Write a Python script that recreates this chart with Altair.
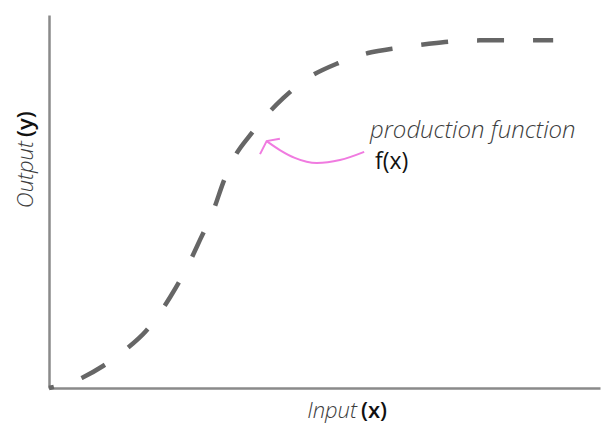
import altair as alt
import pandas as pd

# production function curve (x = input, y = output)
curve_x = [0.0, 6.2, 9.8, 13.8, 17.6, 22.0, 25.0, 27.4, 29.8, 31.8, 33.6, 36.5, 39.2,
           42.5, 46.5, 52.5, 57.9, 63.3, 68.6, 74.0, 78.2, 85.8, 91.5]
curve_y = [0.0, 2.9, 5.9, 10.2, 15.3, 24.4, 32.2, 39.7, 47.5, 55.8, 61.7, 67.8, 72.7,
           77.7, 82.6, 87.1, 89.8, 91.2, 92.2, 93.0, 93.2, 93.2, 93.2]

# pink annotation arrow (shaft and head)
arrow_x = [57.2, 52.8, 48.6, 44.6, 41.9, 39.5]
arrow_y = [63.3, 61.1, 60.3, 61.7, 63.8, 66.2]
head_x = [41.9, 39.5, 38.3]
head_y = [66.8, 66.2, 62.7]

label_main = "production function"
label_fx = "f(x)"
label_x = ["Input", "(x)"]
label_y = ["Output", "(y)"]

curve_df = pd.DataFrame({"x": curve_x, "y": curve_y})
arrow_df = pd.DataFrame({"x": arrow_x, "y": arrow_y, "i": list(range(len(arrow_x)))})
head_df = pd.DataFrame({"x": head_x, "y": head_y, "i": list(range(len(head_x)))})

xs = alt.Scale(domain=[0, 100], nice=False, zero=False)
ys = alt.Scale(domain=[0, 100], nice=False, zero=False)

axis_style = dict(domain=True, domainColor="#8a8a8a", domainWidth=2.5, ticks=False,
                  labels=False, grid=False, title=None)

curve = alt.Chart(curve_df).mark_line(
    color="#666666", strokeWidth=4.5, strokeDash=[27, 29], strokeDashOffset=22,
    interpolate="monotone"
).encode(
    x=alt.X("x:Q", scale=xs, axis=alt.Axis(**axis_style)),
    y=alt.Y("y:Q", scale=ys, axis=alt.Axis(**axis_style)),
)

pink = "#f07be0"
arrow = alt.Chart(arrow_df).mark_line(color=pink, strokeWidth=2, interpolate="monotone").encode(
    x=alt.X("x:Q", scale=xs), y=alt.Y("y:Q", scale=ys), order="i:O"
)
head = alt.Chart(head_df).mark_line(color=pink, strokeWidth=2).encode(
    x=alt.X("x:Q", scale=xs), y=alt.Y("y:Q", scale=ys), order="i:O"
)

one = pd.DataFrame({"a": [0]})
font = "Open Sans"

t_main = alt.Chart(one).mark_text(
    text=label_main, font=font, fontSize=24, fontStyle="italic", fontWeight=300,
    color="#3d3d3d", align="left", baseline="middle"
).encode(x=alt.value(321), y=alt.value(116))

t_fx = alt.Chart(one).mark_text(
    text=label_fx, font=font, fontSize=23, fontWeight=500,
    color="#111111", align="left", baseline="middle"
).encode(x=alt.value(326), y=alt.value(147))

tx1 = alt.Chart(one).mark_text(
    text=label_x[0], font=font, fontSize=22, fontStyle="italic", fontWeight=300,
    color="#3d3d3d", align="right", baseline="middle"
).encode(x=alt.value(308), y=alt.value(396))
tx2 = alt.Chart(one).mark_text(
    text=label_x[1], font=font, fontSize=22, fontWeight=600,
    color="#111111", align="left", baseline="middle"
).encode(x=alt.value(312), y=alt.value(396))

ty1 = alt.Chart(one).mark_text(
    text=label_y[0], font=font, fontSize=22, fontStyle="italic", fontWeight=300,
    color="#3d3d3d", align="right", baseline="middle", angle=270
).encode(x=alt.value(-23), y=alt.value(126))
ty2 = alt.Chart(one).mark_text(
    text=label_y[1], font=font, fontSize=22, fontWeight=600,
    color="#111111", align="left", baseline="middle", angle=270
).encode(x=alt.value(-23), y=alt.value(122))

chart = alt.layer(curve, arrow, head, t_main, t_fx, tx1, tx2, ty1, ty2).properties(
    width=551, height=373,
    autosize=alt.AutoSizeParams(type="none"),
    padding={"left": 49, "top": 15, "right": 4, "bottom": 35},
    background="white",
).configure_view(stroke=None)

chart.save("out.html", embed_options={"renderer": "svg", "actions": False})
